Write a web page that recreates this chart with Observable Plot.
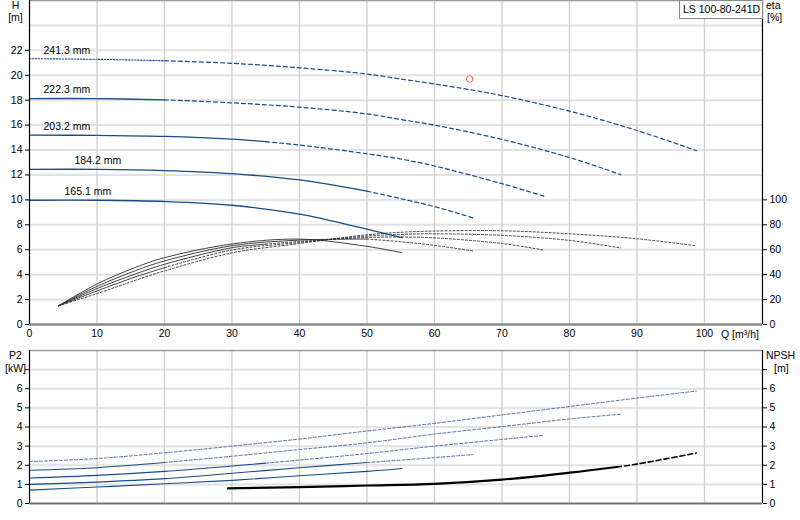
<!DOCTYPE html>
<html>
<head>
<meta charset="utf-8">
<script src="https://cdn.jsdelivr.net/npm/d3@7"></script>
<script src="https://cdn.jsdelivr.net/npm/@observablehq/plot@0.6"></script>
<style>
  body { margin: 0; background: #fff; font-family: "Liberation Sans", Arial, sans-serif; }
  #wrap { position: relative; width: 800px; height: 520px; overflow: hidden; background: #fff; }
  #topPanel, #botPanel { position: absolute; left: 0; }
  #topPanel { top: 0; }
  #botPanel { top: 345px; }
  .lbl { position: absolute; font-size: 10.5px; line-height: 12px; color: #000; white-space: nowrap; }
  #model { position: absolute; left: 679px; top: 0; width: 84px; height: 19px; border: 1px solid #8a8a8a;
           background: #fff; font-size: 10.5px; line-height: 17px; padding-left: 3px; box-sizing: border-box; }
</style>
</head>
<body>
<div id="wrap">
  <div id="topPanel"></div>
  <div id="botPanel"></div>
</div>
<script>
// ---------- data ----------
const diameters = ["165.1 mm", "184.2 mm", "203.2 mm", "222.3 mm", "241.3 mm"];
// flow (m³/h) up to which each head curve is drawn solid (241.3: fine dotted)
const headSolidUntilQ = [Infinity, 50, 35, 20, 20];
// flow up to which efficiency / power curves are drawn solid (241.3: never)
const solidUntilQ = [Infinity, 50, 35, 20, -1];

// Head H [m] vs Q [m³/h]
const head165 = [[0,9.97],[10,9.97],[20,9.87],[30,9.57],[40,8.85],[50,7.65],[55.2,6.98]];
const head184 = [[0,12.45],[10,12.45],[20,12.35],[30,12.1],[40,11.6],[50,10.7],[55,10.1],[60,9.46],[65.7,8.56]];
const head203 = [[0,15.2],[10,15.17],[20,15.1],[30,14.88],[35,14.67],[40,14.4],[50,13.7],[55,13.28],[60,12.72],[70,11.3],[76.2,10.3]];
const head222 = [[0,18.13],[10,18.13],[20,18.03],[30,17.79],[40,17.44],[50,16.9],[55,16.45],[60,16.0],[70,14.85],[80,13.4],[87.6,12.03]];
const head241 = [[0,21.33],[10,21.28],[20,21.17],[30,20.96],[40,20.6],[50,20.1],[55,19.7],[60,19.3],[65.2,18.85],[70,18.37],[80,17.12],[90,15.57],[98.8,13.95]];

// Efficiency eta [%] vs Q
const eta165 = [[4.3,15],[10,32.5],[15.7,45.8],[20,53.6],[30,64.6],[40,68.5],[50,62.7],[55.2,57.6]];
const eta184 = [[4.3,15],[10,30.6],[15.7,43.2],[20,51],[30,63.2],[40,67.7],[50,68.6],[55,66.4],[60,63.5],[65.7,59]];
const eta203 = [[4.3,15],[10,28.8],[15.7,40.6],[20,48.3],[30,61.6],[35,64.5],[40,66.6],[50,69.8],[55,70.2],[60,69.5],[70,65],[76.2,59.7]];
const eta222 = [[4.3,15],[10,26.9],[15.7,38.2],[20,45.6],[30,59.8],[40,65.8],[50,71],[55,72.3],[60,72.8],[70,71.5],[80,67.5],[87.6,61.4]];
const eta241 = [[4.3,15],[10,24.8],[15.7,35.5],[20,43],[30,57.5],[40,65],[50,72],[55,74],[60,75],[70,75.2],[80,72.8],[90,68.8],[98.8,63.2]];

// Shaft power P2 [kW] vs Q
const p2_165 = [[0,0.70],[10,0.86],[20,1.03],[30,1.21],[40,1.45],[50,1.68],[55.2,1.83]];
const p2_184 = [[0,1.0],[10,1.12],[20,1.3],[30,1.58],[40,1.87],[50,2.14],[60,2.4],[65.7,2.56]];
const p2_203 = [[0,1.33],[10,1.47],[20,1.68],[30,1.96],[35,2.11],[40,2.27],[50,2.61],[60,3.0],[70,3.35],[76.2,3.56]];
const p2_222 = [[0,1.74],[10,1.87],[20,2.14],[30,2.47],[40,2.82],[50,3.17],[60,3.63],[70,4.02],[80,4.42],[87.6,4.67]];
const p2_241 = [[0,2.19],[10,2.35],[20,2.65],[30,3.0],[40,3.37],[50,3.79],[60,4.19],[70,4.63],[80,5.07],[90,5.51],[98.8,5.88]];

// NPSH [m] vs Q, solid up to Q = 87
const npsh = [[29.4,0.79],[40,0.86],[50,0.94],[60,1.03],[70,1.25],[80,1.61],[87,1.91],[90,2.06],[98.8,2.64]];
const npshSolidUntilQ = 87;

// duty point
const dutyPoint = [{Q: 65.2, H: 19.7}];

const xTicks = [0,10,20,30,40,50,60,70,80,90,100];
const hTicks = [0,2,4,6,8,10,12,14,16,18,20,22];
const etaTicks = [0,20,40,60,80,100];
const pTicks = [0,1,2,3,4,5,6,7];

const modelName = "LS 100-80-241D";

// ---------- helpers ----------
function splitSeries(seriesList, limits) {
  const solid = [], broken = [];
  seriesList.forEach((pts, i) => {
    const lim = limits[i];
    pts.forEach(([Q, v]) => {
      if (Q <= lim) solid.push({Q, v, k: i});
      if (Q >= lim) broken.push({Q, v, k: i});
    });
  });
  return {solid, broken};
}

const headSeg = splitSeries([head165, head184, head203, head222, head241], headSolidUntilQ);
const etaSeg = splitSeries([eta165, eta184, eta203, eta222, eta241], solidUntilQ);
const p2Seg = splitSeries([p2_165, p2_184, p2_203, p2_222, p2_241], solidUntilQ);
const npSeg = splitSeries([npsh], [npshSolidUntilQ]);
const headStarts = [head165, head184, head203, head222, head241].map((s, i) => ({Q: s[0][0], H: s[0][1], label: diameters[i], k: i}));
const labelDx = [35, 45, 14, 14, 14];

const BLUE = "#164c89";
const CURVE = "catmull-rom";
const FONT = {fontFamily: "'Liberation Sans', Arial, sans-serif", fontSize: "10.5px", background: "transparent", overflow: "visible"};
const xMax = 108.6;

// ---------- top panel ----------
const topPlot = Plot.plot({
  width: 800, height: 345,
  marginLeft: 29, marginRight: 38, marginTop: 0, marginBottom: 21,
  style: FONT,
  x: {domain: [0, xMax]},
  y: {domain: [0, 26]},
  marks: [
    Plot.gridY({ticks: [2,4,6,8,10,12,14,16,18,20,22,24], stroke: "#e2e2e2", strokeWidth: 2, strokeOpacity: 1}),
    Plot.gridX({ticks: xTicks.slice(1), stroke: "#cdcdcd", strokeWidth: 1.3, strokeOpacity: 1}),
    // efficiency
    Plot.line(etaSeg.solid, {x: "Q", y: d => d.v / 10, z: "k", stroke: "#2a2a2a", strokeWidth: 0.9, curve: CURVE}),
    Plot.line(etaSeg.broken, {x: "Q", y: d => d.v / 10, z: "k", stroke: "#2a2a2a", strokeWidth: 0.9, strokeDasharray: "2,2", curve: CURVE}),
    // head
    Plot.line(headSeg.solid.filter(d => d.k !== 4), {x: "Q", y: "v", z: "k", stroke: BLUE, strokeWidth: 1.3, curve: CURVE}),
    Plot.line(headSeg.solid.filter(d => d.k === 4), {x: "Q", y: "v", z: "k", stroke: BLUE, strokeWidth: 1.1, strokeDasharray: "1.5,1.5", curve: CURVE}),
    Plot.line(headSeg.broken, {x: "Q", y: "v", z: "k", stroke: BLUE, strokeWidth: 1.2, strokeDasharray: "4,3", curve: CURVE}),
    Plot.text(headStarts, {x: "Q", y: "H", text: "label", textAnchor: "start", dy: -8.5, fill: "#000"}),
    Plot.dot(dutyPoint, {x: "Q", y: "H", r: 3.3, stroke: "#f06060", fill: "none", strokeWidth: 1}),
    // axes
    Plot.axisY({ticks: hTicks, tickSize: 4, tickPadding: 3, label: null}),
    Plot.axisY({anchor: "right", ticks: etaTicks.map(v => v / 10), tickFormat: v => String(Math.round(v * 10)), tickSize: 4, tickPadding: 3, label: null}),
    Plot.axisX({ticks: xTicks, tickSize: 0, tickPadding: 5, label: null}),
    // frame
    Plot.ruleY([26], {stroke: "#9a9a9a", strokeWidth: 1.5}),
    Plot.ruleY([0], {stroke: "#8a8a8a", strokeWidth: 2.5}),
    Plot.ruleX([0], {stroke: "#000", strokeWidth: 1.2}),
    Plot.ruleX([xMax], {stroke: "#000", strokeWidth: 1.2})
  ]
});
// give each diameter label its own horizontal offset
const labelTexts = [...topPlot.querySelectorAll("g[aria-label='text'] text")];
labelTexts.forEach((t, i) => {
  const x0 = parseFloat(t.getAttribute("x") || "0");
  t.setAttribute("x", x0 + (labelDx[i] ?? 0));
});
document.getElementById("topPanel").appendChild(topPlot);

// ---------- bottom panel ----------
const botPlot = Plot.plot({
  width: 800, height: 175,
  marginLeft: 29, marginRight: 38, marginTop: 5, marginBottom: 17,
  style: FONT,
  x: {domain: [0, xMax], axis: null},
  y: {domain: [0, 8]},
  marks: [
    Plot.gridY({ticks: [1,2,3,4,5,6,7], stroke: "#e2e2e2", strokeWidth: 2, strokeOpacity: 1}),
    Plot.gridX({ticks: xTicks.slice(1), stroke: "#cdcdcd", strokeWidth: 1.3, strokeOpacity: 1}),
    Plot.line(p2Seg.solid, {x: "Q", y: "v", z: "k", stroke: BLUE, strokeWidth: 1.1, curve: CURVE}),
    Plot.line(p2Seg.broken, {x: "Q", y: "v", z: "k", stroke: "#56709e", strokeWidth: 1, strokeDasharray: "3,2", curve: CURVE}),
    Plot.line(npSeg.solid, {x: "Q", y: "v", stroke: "#000", strokeWidth: 2.2, curve: CURVE}),
    Plot.line(npSeg.broken, {x: "Q", y: "v", stroke: "#000", strokeWidth: 1.6, strokeDasharray: "5,3", curve: CURVE}),
    Plot.axisY({ticks: pTicks, tickFormat: v => v <= 6 ? String(v) : "", tickSize: 4, tickPadding: 3, label: null}),
    Plot.axisY({anchor: "right", ticks: pTicks, tickFormat: v => v <= 6 ? String(v) : "", tickSize: 4, tickPadding: 3, label: null}),
    Plot.ruleY([8], {stroke: "#9a9a9a", strokeWidth: 1.5}),
    Plot.ruleY([0], {stroke: "#707070", strokeWidth: 2}),
    Plot.ruleX([0], {stroke: "#000", strokeWidth: 1.2}),
    Plot.ruleX([xMax], {stroke: "#000", strokeWidth: 1.2})
  ]
});
document.getElementById("botPanel").appendChild(botPlot);

// ---------- text labels ----------
const wrap = document.getElementById("wrap");
function addLabel(txt, left, topPx, align) {
  const d = document.createElement("div");
  d.className = "lbl";
  d.textContent = txt;
  d.style.left = left + "px";
  d.style.top = topPx + "px";
  if (align === "center") { d.style.transform = "translateX(-50%)"; }
  wrap.appendChild(d);
}
addLabel("H", 15.5, -1, "center");
addLabel("[m]", 15.5, 11, "center");
addLabel("eta", 766, -1);
addLabel("[%]", 767, 11);
addLabel("Q [m³/h]", 721, 328);
addLabel("P2", 15.5, 349, "center");
addLabel("[kW]", 15.5, 362, "center");
addLabel("NPSH", 766, 349);
addLabel("[m]", 774, 362);
const modelBox = document.createElement("div");
modelBox.id = "model";
modelBox.textContent = modelName;
wrap.appendChild(modelBox);
</script>
</body>
</html>
